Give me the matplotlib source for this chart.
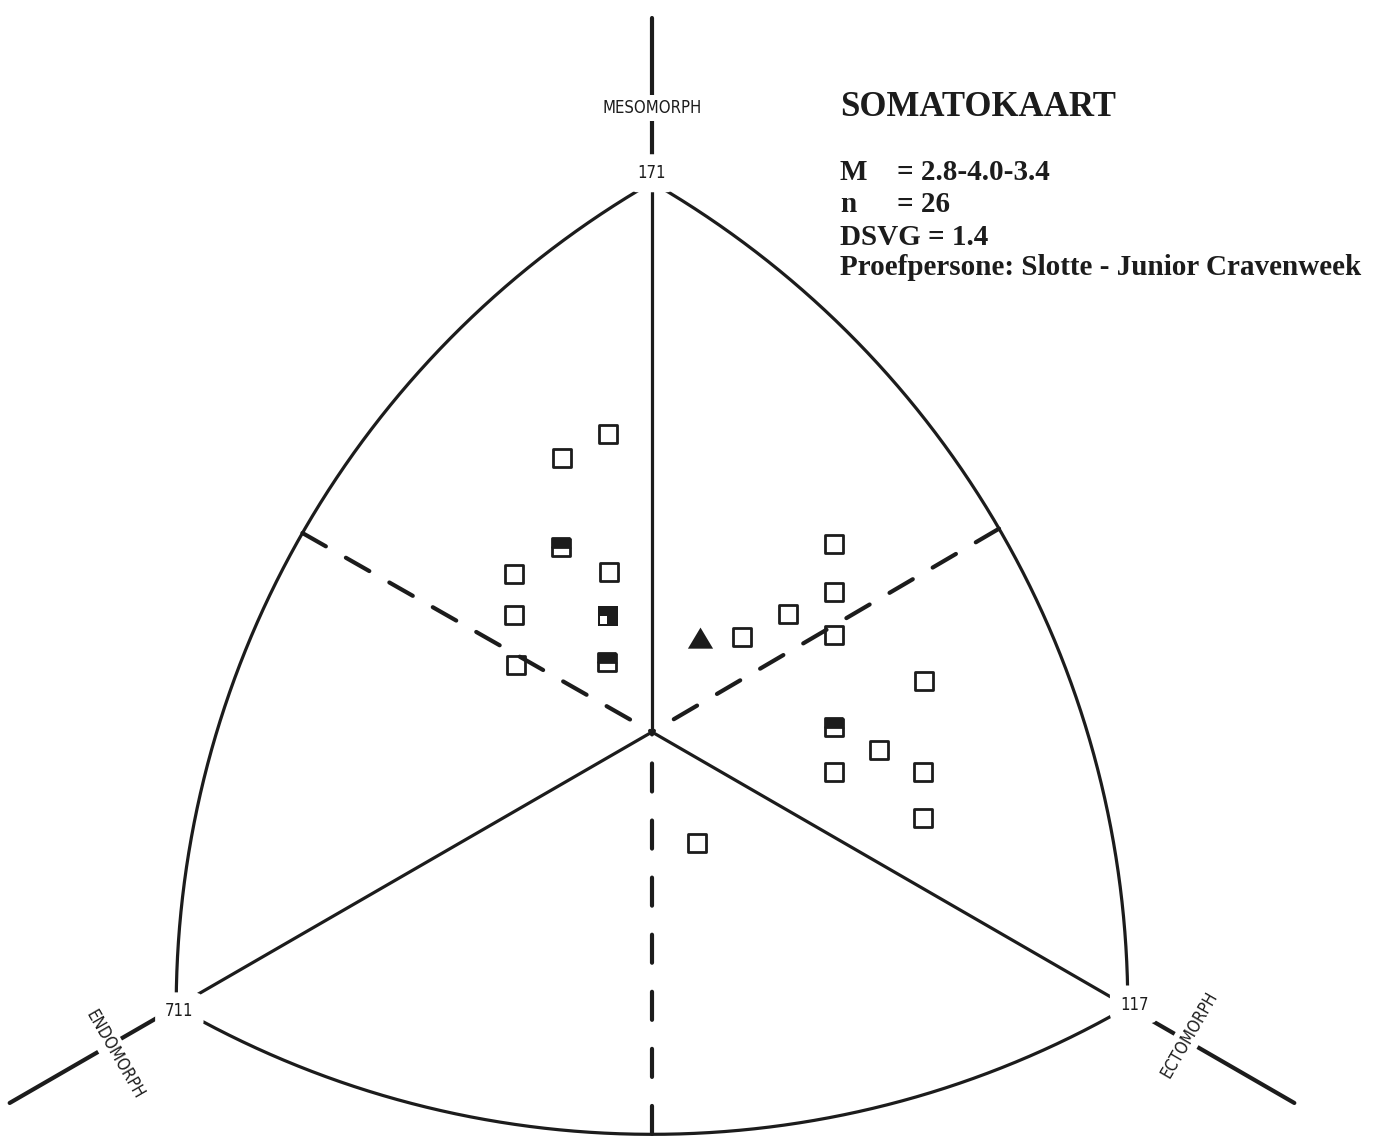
import numpy as np
import matplotlib
matplotlib.use("Agg")
import matplotlib.pyplot as plt
from matplotlib.path import Path
from matplotlib.markers import MarkerStyle

# somatochart coordinates: X = ecto - endo, Y = 2*meso - (endo + ecto)
x_vals = [-0.55, -1.14, -1.15, -1.74, -0.54, -1.74, -0.55, -1.72, -0.57,
          1.13, 1.71, 2.29, 2.29, 2.29, 3.43, 2.29, 2.86, 2.29, 3.42, 3.42, 0.57]
y_vals = [6.51, 5.98, 4.04, 3.45, 3.49, 2.55, 2.53, 1.46, 1.53,
          2.07, 2.58, 4.10, 3.06, 2.12, 1.11, 0.11, -0.39, -0.87, -0.87, -1.88, -2.42]
# number of subjects sitting on each plotted somatotype
counts = [1, 1, 2, 1, 1, 1, 3, 1, 2,
          1, 1, 1, 1, 1, 1, 2, 1, 1, 1, 1, 1]

mean_rating = [2.8, 4.0, 3.4]
n_subjects = 26
dsvg = 1.4

pole_labels = ["171", "711", "117"]
pole_ratings = [[1, 7, 1], [7, 1, 1], [1, 1, 7]]
axis_names = ["MESOMORPH", "ENDOMORPH", "ECTOMORPH"]
axis_rot = [0, -60, 60]
axis_ext = [1.3, 1.35, 1.35]
# where the axis names and pole numbers sit on the chart
name_xy = [(0.0, 13.62), (-6.77, -7.05), (6.78, -6.6)]
pole_shift = [(0.0, 0.2), (0.04, -0.1), (0.08, 0.05)]

R3 = np.sqrt(3)
INK = "#1c1c1c"


def to_xy(endo, meso, ecto):
    return ecto - endo, 2 * meso - (endo + ecto)


def arc_points(a, b, c, num=200):
    # Reuleaux arc from a to b, centred on the opposite pole c
    ca = np.arctan2(a[1] - c[1], (a[0] - c[0]) * R3)
    cb = np.arctan2(b[1] - c[1], (b[0] - c[0]) * R3)
    if cb - ca > np.pi:
        cb -= 2 * np.pi
    if ca - cb > np.pi:
        ca -= 2 * np.pi
    r = np.hypot((a[0] - c[0]) * R3, a[1] - c[1])
    t = np.linspace(ca, cb, num)
    return (c[0] * R3 + r * np.cos(t)) / R3, c[1] + r * np.sin(t)


plt.rcParams["lines.scale_dashes"] = False
plt.rcParams["font.family"] = "DejaVu Sans"

fig = plt.figure(figsize=(13.81, 11.37), dpi=100)
ax = fig.add_axes([0, 0, 1, 1])
ax.set_xlim(-8.222, 9.193)
ax.set_ylim(-8.843, 15.983)
ax.axis("off")

poles = [to_xy(*r) for r in pole_ratings]

# outline: three arcs and the dashed bisectors running back to the centre
for i in range(3):
    a, b, c = poles[i], poles[(i + 1) % 3], poles[(i + 2) % 3]
    xs, ys = arc_points(a, b, c)
    ax.plot(xs, ys, color=INK, lw=2.3, solid_capstyle="round", zorder=2)
    mx, my = xs[len(xs) // 2], ys[len(ys) // 2]
    if abs(mx) < 0.05:
        mx = 0.0
        dash = (0, (20.2, 20.9))
    else:
        dash = (0, (19.4, 16.6))
    ax.plot([mx, 0], [my, 0], color=INK, lw=3.0, linestyle=dash,
            dash_capstyle="round", zorder=2)

# solid spokes to the poles and the axis lines beyond them
for i, (px, py) in enumerate(poles):
    ax.plot([0, px], [0, py], color=INK, lw=2.3, zorder=2)
    k = axis_ext[i]
    ax.plot([px, px * k], [py, py * k], color=INK, lw=3.0,
            solid_capstyle="round", zorder=2)
    sx, sy = pole_shift[i]
    ax.text(px + sx, py + sy, pole_labels[i], ha="center", va="center",
            fontsize=12, fontstretch="condensed", color=INK, zorder=3,
            bbox=dict(boxstyle="round,pad=0.6", fc="white", ec="none"))
    nx, ny = name_xy[i]
    ax.text(nx, ny, axis_names[i], ha="center", va="center", fontsize=12,
            fontstretch="condensed", rotation=axis_rot[i],
            rotation_mode="anchor", color=INK, zorder=3,
            bbox=dict(boxstyle="square,pad=0.25", fc="white", ec="none"))

# subject somatotypes
x_arr = np.array(x_vals)
y_arr = np.array(y_vals)
c_arr = np.array(counts)

one = c_arr == 1
ax.plot(x_arr[one], y_arr[one], linestyle="none",
        marker=MarkerStyle("s", joinstyle="round"), markersize=12.6,
        markerfacecolor="none", markeredgecolor=INK, markeredgewidth=2.0,
        zorder=4)

two = c_arr == 2
ax.plot(x_arr[two], y_arr[two], linestyle="none",
        marker=MarkerStyle("s", fillstyle="top", joinstyle="round"),
        markersize=12.6, markerfacecolor=INK, markerfacecoloralt="white",
        markeredgecolor=INK, markeredgewidth=2.0, zorder=4)

three_path = Path(
    [(-1, -1), (1, -1), (1, 1), (-1, 1), (-1, -1),
     (-0.83, -0.80), (-0.83, -0.03), (-0.06, -0.03), (-0.06, -0.80), (-0.83, -0.80)],
    [Path.MOVETO, Path.LINETO, Path.LINETO, Path.LINETO, Path.CLOSEPOLY,
     Path.MOVETO, Path.LINETO, Path.LINETO, Path.LINETO, Path.CLOSEPOLY])
three = c_arr == 3
ax.plot(x_arr[three], y_arr[three], linestyle="none",
        marker=MarkerStyle(three_path), markersize=14.6,
        markerfacecolor=INK, markeredgewidth=0, zorder=4)

# group mean, triangle standing on its point
mean_x, mean_y = to_xy(*mean_rating)
tri_path = Path([(-0.55, 0.08), (0.55, 0.08), (0, 1.0), (-0.55, 0.08)],
                [Path.MOVETO, Path.LINETO, Path.LINETO, Path.CLOSEPOLY])
ax.plot([mean_x], [mean_y], linestyle="none", marker=MarkerStyle(tri_path),
        markersize=33, markerfacecolor=INK, markeredgewidth=0, zorder=4)

# title block
serif = "Liberation Serif"
fig.text(840 / 1381, 1 - 116 / 1137, "SOMATOKAART", family=serif,
         weight="bold", fontsize=25, color=INK, va="baseline")
m_txt = "= " + "-".join(f"{v:.1f}" for v in mean_rating)
rows = [("M", m_txt, 180), ("n", f"= {n_subjects}", 212)]
for left, right, base in rows:
    fig.text(840 / 1381, 1 - base / 1137, left, family=serif, weight="bold",
             fontsize=21, color=INK, va="baseline")
    fig.text(897 / 1381, 1 - base / 1137, right, family=serif, weight="bold",
             fontsize=21, color=INK, va="baseline")
fig.text(840 / 1381, 1 - 245 / 1137, f"DSVG = {dsvg}", family=serif,
         weight="bold", fontsize=21, color=INK, va="baseline")
fig.text(840 / 1381, 1 - 275 / 1137, "Proefpersone: Slotte - Junior Cravenweek",
         family=serif, weight="bold", fontsize=21, color=INK, va="baseline")

fig.savefig("out.png", dpi=100, facecolor="white")
